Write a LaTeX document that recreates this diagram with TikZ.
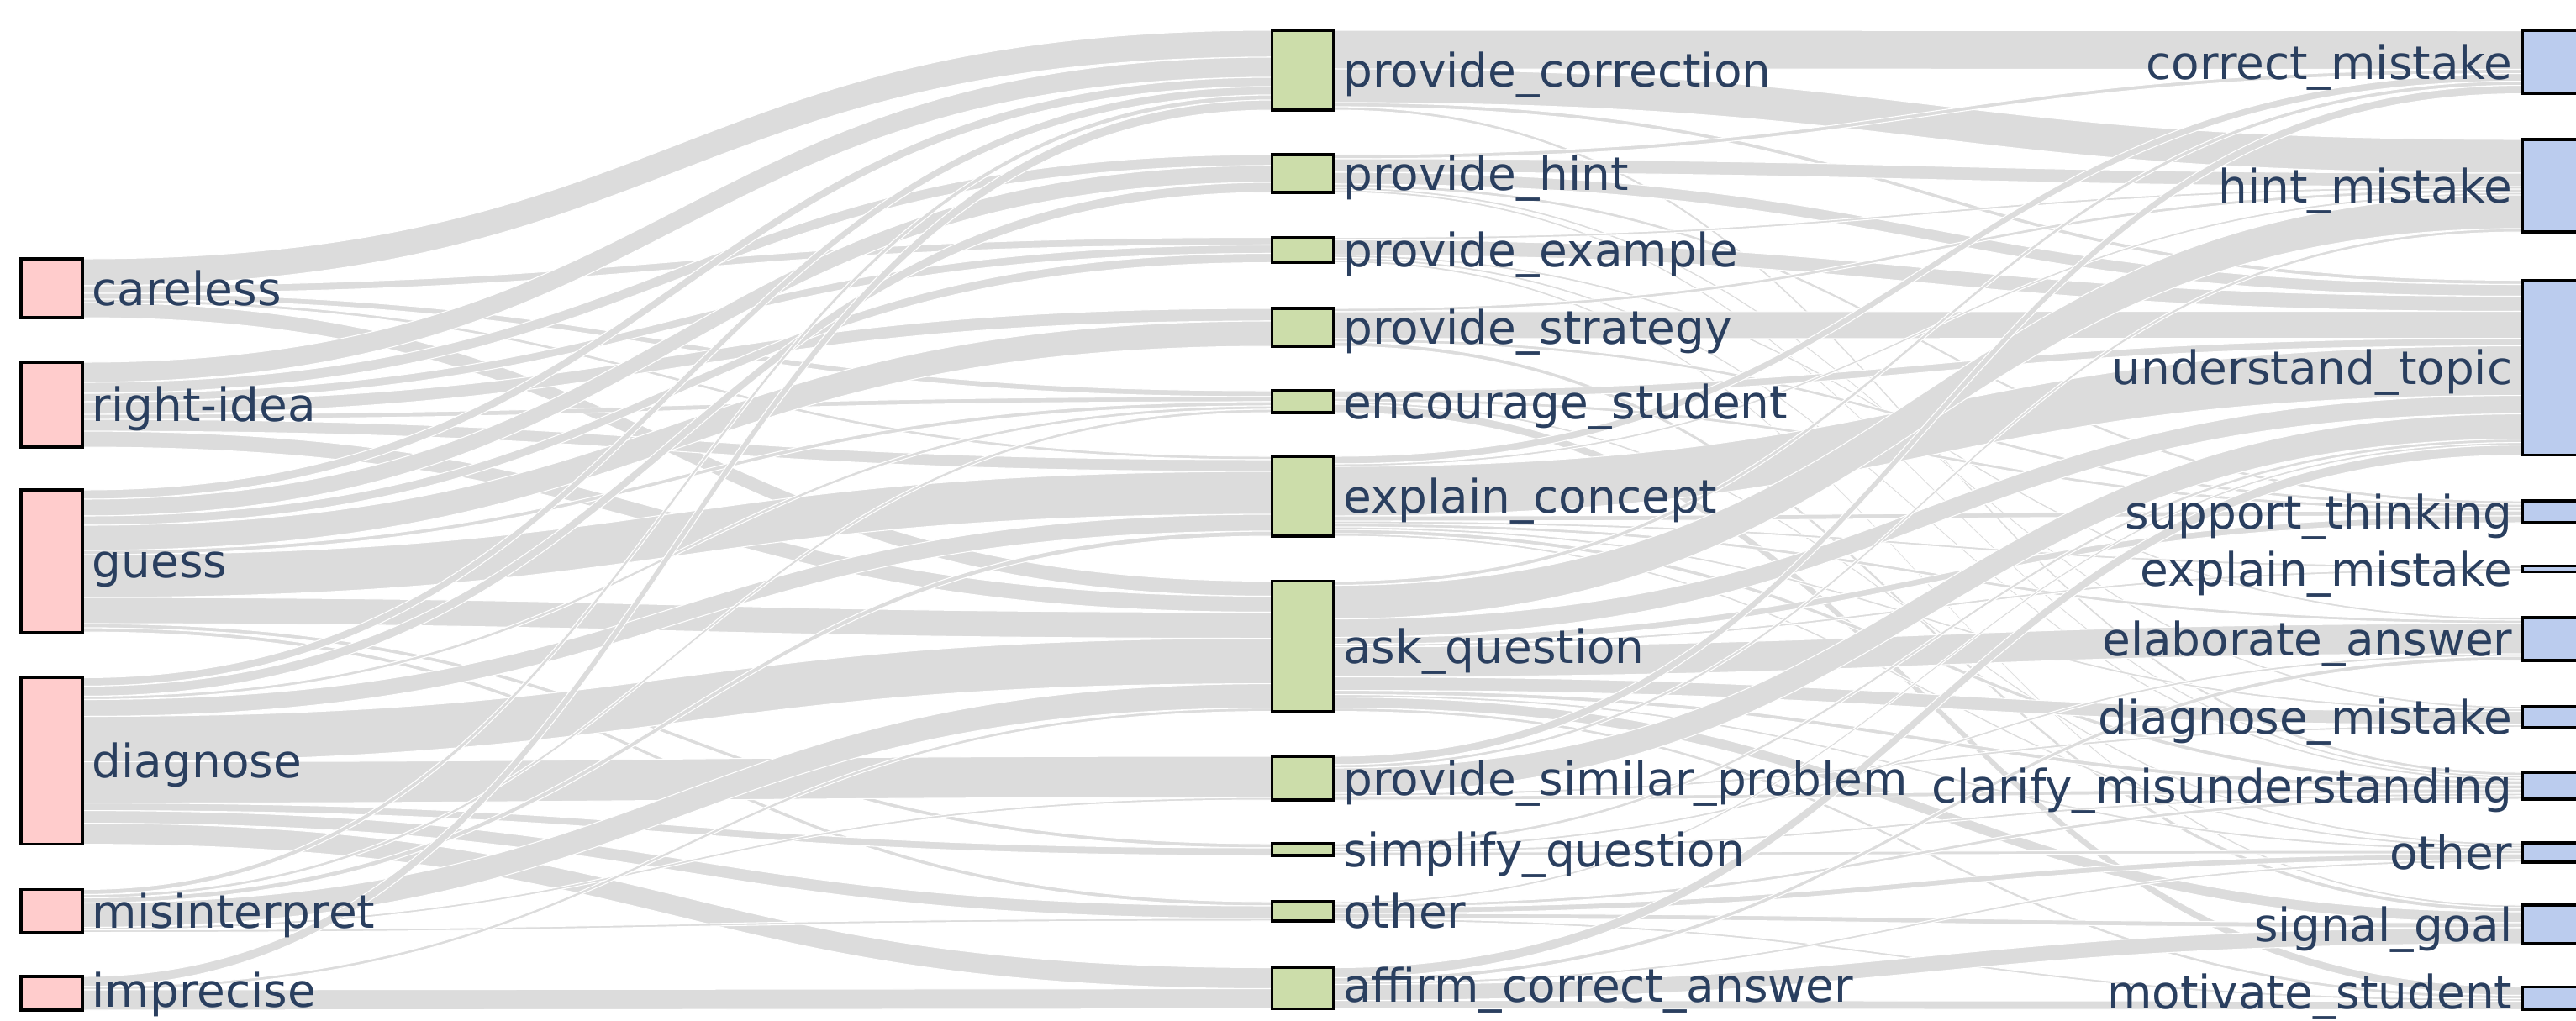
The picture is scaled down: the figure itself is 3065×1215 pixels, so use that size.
\documentclass[tikz,border=0pt]{standalone}
\usepackage{fontspec}
\setmainfont{DejaVu Sans}
\usetikzlibrary{backgrounds}

\definecolor{errfill}{HTML}{FFCCCC}
\definecolor{stratfill}{HTML}{CCDDAA}
\definecolor{intfill}{HTML}{BBCCEE}
\definecolor{linkgray}{HTML}{DCDCDC}
\definecolor{labelblue}{HTML}{2A3F5F}

% global key/value store for the running offsets of the bands
\newcommand\gset[2]{\expandafter\xdef\csname #1\endcsname{#2}}
\newcommand\gget[1]{\csname #1\endcsname}

% a sankey node: style, name, x centre, top, height (all in px)
\newcommand\sknode[5]{%
  \pgfmathsetmacro\skh{#5/100}%
  \node[#1, minimum height=\skh cm] (#2) at (#3,#4) {};}

% labels to the right / to the left of a node (optional extra lift)
\newcommand\lblright[3][0]{\node[lbl, anchor=base west] (#2-label) at ([xshift=0.11cm, yshift=-0.2cm+#1cm]#2.east) {#3};}
\newcommand\lblleft[3][0]{\node[lbl, anchor=base east] (#2-label) at ([xshift=-0.11cm, yshift=-0.2cm+#1cm]#2.west) {#3};}

% one flow band: source, target, offset at source, offset at target, width (px)
\newcommand\flowband[5]{%
  \pgfmathsetmacro\yA{#3/100}\pgfmathsetmacro\yB{#4/100}%
  \pgfmathsetmacro\yC{(#3+#5)/100}\pgfmathsetmacro\yD{(#4+#5)/100}%
  \path[band] ([yshift=-\yA cm]#1.north east) .. controls +(7.075cm,0) and +(-7.075cm,0) ..
    ([yshift=-\yB cm]#2.north west) -- ([yshift=-\yD cm]#2.north west)
    .. controls +(-7.075cm,0) and +(7.075cm,0) .. ([yshift=-\yC cm]#1.north east) -- cycle;}

% stacking: offsets at the sources (row order), then at the targets (column order)
\newcommand\stackflows[2]{% list, ordered target names
  \foreach \src/\tgt/\val in #1 {%
    \edef\tmp{\gget{so@\src}}%
    \gset{ys@\src @\tgt}{\tmp}%
    \pgfmathsetmacro\nxt{\tmp+\val}%
    \gset{so@\src}{\nxt}%
  }%
  \foreach \tn in {#2} {%
    \foreach \src/\tgt/\val in #1 {%
      \edef\ta{\tgt}\edef\tb{\tn}%
      \ifx\ta\tb
        \edef\tmp{\gget{to@\tgt}}%
        \gset{yt@\src @\tgt}{\tmp}%
        \pgfmathsetmacro\nxt{\tmp+\val}%
        \gset{to@\tgt}{\nxt}%
      \fi
    }%
  }%
}
\newcommand\drawflows[1]{%
  \foreach \src/\tgt/\val in #1 {%
    \edef\ya{\gget{ys@\src @\tgt}}\edef\yb{\gget{yt@\src @\tgt}}%
    \flowband{\src}{\tgt}{\ya}{\yb}{\val}%
  }}

% error type -> strategy
\def\linksA{%
careless/pcorr/32,careless/pex/9,careless/enc/7,careless/expl/4,careless/askq/18,%
rightidea/pcorr/24,rightidea/phint/13,rightidea/pex/10,rightidea/pstrat/15,rightidea/enc/6,rightidea/expl/14,rightidea/askq/19,%
guess/pcorr/11,guess/phint/20,guess/pex/11,guess/pstrat/30,guess/enc/5,guess/expl/51,guess/askq/31,guess/simp/5,guess/othm/5,%
diagnose/pcorr/10,diagnose/phint/12,diagnose/enc/4,diagnose/expl/20,diagnose/askq/54,diagnose/psim/49,diagnose/simp/9,diagnose/othm/15,diagnose/affirm/25,%
misinterpret/pcorr/6,misinterpret/enc/4,misinterpret/expl/6,misinterpret/askq/29,misinterpret/psim/3,misinterpret/othm/3,%
imprecise/pcorr/12,imprecise/askq/4,imprecise/affirm/24}

% strategy -> intention
\def\linksB{%
pcorr/cmis/46,pcorr/hmis/40,pcorr/utop/5,pcorr/clar/4,%
phint/cmis/5,phint/hmis/16,phint/utop/14,phint/sthink/4,phint/dmis/3,phint/clar/3,%
pex/hmis/3,pex/utop/18,pex/elab/3,pex/clar/3,pex/sgoal/3,%
pstrat/hmis/4,pstrat/utop/32,pstrat/sthink/4,pstrat/sgoal/5,%
enc/utop/9,enc/sthink/4,enc/othr/3,enc/motiv/10,%
expl/cmis/9,expl/hmis/3,expl/utop/59,expl/sthink/6,expl/emis/3,expl/elab/4,expl/dmis/3,expl/clar/5,expl/othr/3,%
askq/cmis/5,askq/hmis/40,askq/utop/22,askq/sthink/8,askq/emis/3,askq/elab/36,askq/dmis/16,askq/clar/5,askq/othr/3,askq/sgoal/13,askq/motiv/4,%
psim/cmis/10,psim/hmis/4,psim/utop/30,psim/dmis/3,psim/clar/5,%
simp/utop/4,simp/elab/3,simp/clar/3,simp/othr/4,%
othm/utop/3,othm/clar/4,othm/othr/7,othm/sgoal/6,othm/motiv/3,%
affirm/utop/12,affirm/elab/5,affirm/othr/3,affirm/sgoal/19,affirm/motiv/10}

\begin{document}
\begin{tikzpicture}[x=0.01cm, y=-0.01cm,
  box/.style={draw=black, line width=0.9pt, inner sep=0pt, outer sep=0pt,
              minimum width=0.73cm, anchor=north},
  errnode/.style={box, fill=errfill},
  stratnode/.style={box, fill=stratfill},
  intnode/.style={box, fill=intfill},
  lbl/.style={text=labelblue, inner sep=0pt, font=\fontsize{15.6pt}{18pt}\selectfont},
  band/.style={fill=linkgray, draw=white, line width=0.3pt}]

\useasboundingbox (0,0) rectangle (3065,1215);
\clip (0,0) rectangle (3065,1215);

% error types
\sknode{errnode}{careless}{61.5}{308}{70}
\sknode{errnode}{rightidea}{61.5}{431}{101}
\sknode{errnode}{guess}{61.5}{583}{169}
\sknode{errnode}{diagnose}{61.5}{806.5}{198}
\sknode{errnode}{misinterpret}{61.5}{1058.5}{51}
\sknode{errnode}{imprecise}{61.5}{1162}{40}

% strategies
\sknode{stratnode}{pcorr}{1550}{36}{95}
\sknode{stratnode}{phint}{1550}{184}{45}
\sknode{stratnode}{pex}{1550}{282.5}{30}
\sknode{stratnode}{pstrat}{1550}{367}{45}
\sknode{stratnode}{enc}{1550}{465}{26}
\sknode{stratnode}{expl}{1550}{543}{95}
\sknode{stratnode}{askq}{1550}{691.5}{155}
\sknode{stratnode}{psim}{1550}{900}{52}
\sknode{stratnode}{simp}{1550}{1004}{14}
\sknode{stratnode}{othm}{1550}{1073}{23}
\sknode{stratnode}{affirm}{1550}{1151.5}{49}

% intentions
\sknode{intnode}{cmis}{3037.5}{36.5}{75}
\sknode{intnode}{hmis}{3037.5}{166}{110}
\sknode{intnode}{utop}{3037.5}{333.5}{208}
\sknode{intnode}{sthink}{3037.5}{596}{26}
\sknode{intnode}{emis}{3037.5}{673.5}{7}
\sknode{intnode}{elab}{3037.5}{735}{51}
\sknode{intnode}{dmis}{3037.5}{840.5}{25}
\sknode{intnode}{clar}{3037.5}{919}{32}
\sknode{intnode}{othr}{3037.5}{1003}{23}
\sknode{intnode}{sgoal}{3037.5}{1077}{46}
\sknode{intnode}{motiv}{3037.5}{1174.5}{27}

% offsets start at the top of every node
\foreach \n in {careless,rightidea,guess,diagnose,misinterpret,imprecise,
  pcorr,phint,pex,pstrat,enc,expl,askq,psim,simp,othm,affirm,
  cmis,hmis,utop,sthink,emis,elab,dmis,clar,othr,sgoal,motiv}
  {\gset{so@\n}{0}\gset{to@\n}{0}}

\stackflows{\linksA}{pcorr,phint,pex,pstrat,enc,expl,askq,psim,simp,othm,affirm}
\stackflows{\linksB}{cmis,hmis,utop,sthink,emis,elab,dmis,clar,othr,sgoal,motiv}

\begin{pgfonlayer}{background}
  \drawflows{\linksA}
  \drawflows{\linksB}
\end{pgfonlayer}

% labels
\lblright{careless}{careless}
\lblright{rightidea}{right-idea}
\lblright{guess}{guess}
\lblright{diagnose}{diagnose}
\lblright{misinterpret}{misinterpret}
\lblright[0.04]{imprecise}{imprecise}

\lblright{pcorr}{provide\_correction}
\lblright{phint}{provide\_hint}
\lblright{pex}{provide\_example}
\lblright{pstrat}{provide\_strategy}
\lblright{enc}{encourage\_student}
\lblright{expl}{explain\_concept}
\lblright{askq}{ask\_question}
\lblright{psim}{provide\_similar\_problem}
\lblright{simp}{simplify\_question}
\lblright{othm}{other}
\lblright[0.04]{affirm}{affirm\_correct\_answer}

\lblleft{cmis}{correct\_mistake}
\lblleft{hmis}{hint\_mistake}
\lblleft{utop}{understand\_topic}
\lblleft{sthink}{support\_thinking}
\lblleft{emis}{explain\_mistake}
\lblleft{elab}{elaborate\_answer}
\lblleft{dmis}{diagnose\_mistake}
\lblleft{clar}{clarify\_misunderstanding}
\lblleft{othr}{other}
\lblleft{sgoal}{signal\_goal}
\lblleft[0.08]{motiv}{motivate\_student}
\end{tikzpicture}
\end{document}
